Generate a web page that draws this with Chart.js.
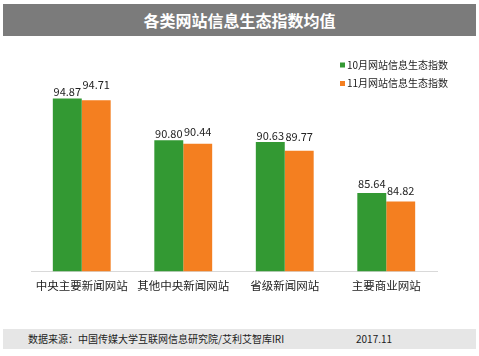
<!DOCTYPE html>
<html><head><meta charset="utf-8">
<script src="https://cdn.jsdelivr.net/npm/chart.js@4/dist/chart.umd.min.js"></script>
<style>
html,body{margin:0;padding:0;background:#fff;}
#wrap{position:relative;width:479px;height:356px;overflow:hidden;font-family:"Noto Sans CJK SC","Noto Sans",sans-serif;}
#title{position:absolute;left:3px;top:4px;width:473px;height:32px;background:#7b7b7b;color:#fff;font-weight:bold;font-size:16px;line-height:32px;text-align:center;}
#foot{position:absolute;left:3px;top:329px;width:473px;height:20px;background:#e6e6e6;color:#222;font-size:10px;line-height:20px;}
#foot .src{position:absolute;left:25px;}
#foot .date{position:absolute;left:353px;}
canvas{position:absolute;left:0;top:0;}
</style></head>
<body><div id="wrap">
<canvas id="c" width="479" height="356"></canvas>
<div id="title">各类网站信息生态指数均值</div>
<div id="foot"><span class="src">数据来源：中国传媒大学互联网信息研究院/艾利艾智库IRI</span><span class="date">2017.11</span></div>
</div>
<script>
const categories = ["中央主要新闻网站","其他中央新闻网站","省级新闻网站","主要商业网站"];
const seriesNames = ["10月网站信息生态指数","11月网站信息生态指数"];
const octValues = [94.87, 90.80, 90.63, 85.64];
const novValues = [94.71, 90.44, 89.77, 84.82];

const FONT = '"Noto Sans CJK SC","Noto Sans",sans-serif';

const valueLabels = {
  id:'valueLabels',
  afterDatasetsDraw(chart, args, opts){
    const ctx = chart.ctx;
    ctx.save();
    ctx.font = '11px ' + FONT;
    ctx.fillStyle = '#222';
    ctx.textAlign = 'center';
    ctx.textBaseline = 'alphabetic';
    chart.data.datasets.forEach((ds, di) => {
      chart.getDatasetMeta(di).data.forEach((bar, i) => {
        ctx.fillText(ds.data[i].toFixed(2), bar.x, bar.y - opts.gaps[di][i]);
      });
    });
    ctx.restore();
  }
};
const customLegend = {
  id:'customLegend',
  afterDraw(chart){
    const ctx = chart.ctx;
    ctx.save();
    ctx.font = '10px ' + FONT;
    ctx.textBaseline = 'middle';
    ctx.textAlign = 'left';
    chart.data.datasets.forEach((ds, di) => {
      const y = 65 + di * 18.5;
      ctx.fillStyle = ds.backgroundColor;
      ctx.fillRect(340, y - 2.5, 5, 5);
      ctx.fillStyle = '#222';
      ctx.fillText(ds.label, 347, y);
    });
    ctx.restore();
  }
};

new Chart(document.getElementById('c'), {
  type:'bar',
  data:{
    labels: categories,
    datasets:[
      {label: seriesNames[0], data: octValues, backgroundColor:'#339933', categoryPercentage:0.57, barPercentage:1.0},
      {label: seriesNames[1], data: novValues, backgroundColor:'#f47f20', categoryPercentage:0.57, barPercentage:1.0}
    ]
  },
  options:{
    responsive:false, animation:false,
    layout:{padding:{left:31, right:42, top:46, bottom:55}},
    plugins:{
      legend:{display:false}, tooltip:{enabled:false},
      valueLabels:{gaps:[[2.5,2,2,5],[11,7.5,10,6.3]]}
    },
    scales:{
      x:{
        grid:{display:false, drawTicks:false},
        border:{display:true, color:'#d9d9d9', width:1},
        ticks:{color:'#222', font:{family:FONT, size:11.5}, padding:8, maxRotation:0, autoSkip:false}
      },
      y:{display:false, min:78, max:100}
    }
  },
  plugins:[valueLabels, customLegend]
});
</script>
</body></html>
